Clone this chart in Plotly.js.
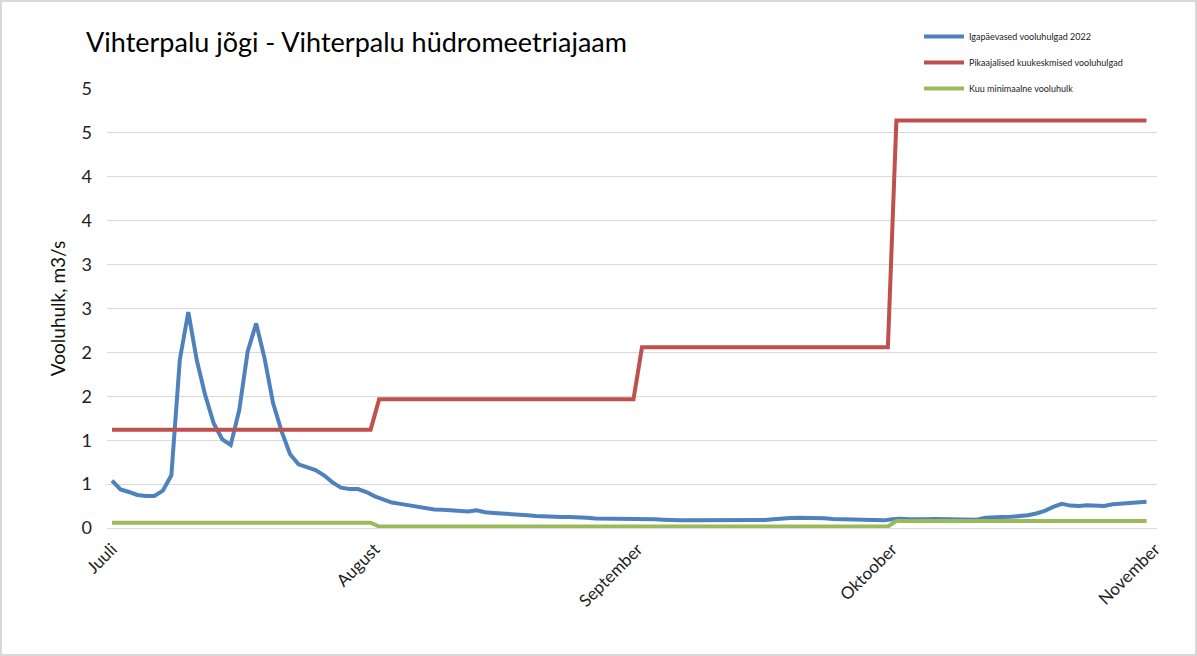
<!DOCTYPE html>
<html>
<head>
<meta charset="utf-8">
<script src="https://cdn.plot.ly/plotly-3.0.1.min.js"></script>
<style>
  body { margin: 0; background: #fff; }
  #chart { position: absolute; left: 0; top: 0; width: 1197px; height: 656px; }
  #frame { position: absolute; left: 0; top: 0; width: 1197px; height: 656px;
           box-sizing: border-box; border: 2px solid #d9d9d9; pointer-events: none; }
</style>
</head>
<body>
<div id="chart"></div>
<div id="frame"></div>
<script>
// daily flows 2022, m3/s
const julyFlow = [0.54, 0.44, 0.41, 0.376, 0.364, 0.364, 0.425, 0.60, 1.92, 2.46,
  1.91, 1.51, 1.19, 1.01, 0.945, 1.34, 2.01, 2.33, 1.93, 1.42,
  1.10, 0.84, 0.725, 0.687, 0.66, 0.60, 0.52, 0.46, 0.444, 0.444, 0.41];
const augustFlow = [0.36, 0.32, 0.29, 0.275, 0.26, 0.24, 0.22, 0.212, 0.207, 0.20,
  0.19, 0.188, 0.203, 0.18, 0.172, 0.168, 0.16, 0.15, 0.145, 0.138,
  0.132, 0.124, 0.124, 0.124, 0.124, 0.118, 0.109, 0.109, 0.109, 0.109, 0.105];
const septemberFlow = [0.105, 0.103, 0.10, 0.095, 0.087, 0.087, 0.087, 0.087, 0.087, 0.087,
  0.087, 0.087, 0.087, 0.087, 0.087, 0.09, 0.10, 0.11, 0.115, 0.117,
  0.117, 0.117, 0.11, 0.102, 0.10, 0.098, 0.095, 0.085, 0.085, 0.087];
const octoberFlow = [0.10, 0.106, 0.10, 0.095, 0.10, 0.102, 0.102, 0.102, 0.10, 0.095,
  0.095, 0.118, 0.125, 0.125, 0.127, 0.135, 0.145, 0.165, 0.195, 0.24,
  0.275, 0.255, 0.25, 0.26, 0.25, 0.25, 0.27, 0.28, 0.285, 0.29, 0.30];

// monthly long-term mean and monthly minimum (step corners)
const stepDates = ['2022-07-01', '2022-07-31 12:00', '2022-08-01 12:00', '2022-08-31 12:00',
  '2022-09-01 12:00', '2022-09-30 12:00', '2022-10-01 12:00', '2022-10-31'];
const meanFlow = [1.12, 1.12, 1.465, 1.465, 2.058, 2.058, 4.64, 4.64];
const minFlow = [0.06, 0.06, 0.017, 0.017, 0.017, 0.017, 0.08, 0.08];

const monthTicks = ['2022-07-01', '2022-08-01', '2022-09-01', '2022-10-01', '2022-11-01'];
const monthLabels = ['Juuli', 'August', 'September', 'Oktoober', 'November'];

const yTickVals = [0, 0.5, 1, 1.5, 2, 2.5, 3, 3.5, 4, 4.5, 5];
const yTickText = ['0', '1', '1', '2', '2', '3', '3', '4', '4', '5', '5'];

const dailyFlow = julyFlow.concat(augustFlow, septemberFlow, octoberFlow);
let days = [];
for (let i = 0; i < dailyFlow.length; i++) {
  let d = new Date(Date.UTC(2022, 6, 1 + i));
  days.push(d.toISOString().slice(0, 10));
}

const font = 'Lato, "Liberation Sans", sans-serif';

let data = [
  {
    x: days, y: dailyFlow, mode: 'lines', name: 'Igapäevased vooluhulgad 2022',
    legendgroup: 'a', line: { color: '#4F81BD', width: 4 }
  },
  {
    x: stepDates, y: meanFlow, mode: 'lines', name: 'Pikaajalised kuukeskmised vooluhulgad',
    legendgroup: 'b', line: { color: '#C0504D', width: 4 }
  },
  {
    x: stepDates, y: minFlow, mode: 'lines', name: 'Kuu minimaalne vooluhulk',
    legendgroup: 'c', line: { color: '#9BBB59', width: 4 }
  }
];

let layout = {
  width: 1197,
  height: 656,
  paper_bgcolor: '#fff',
  plot_bgcolor: '#fff',
  font: { family: font, color: '#222' },
  margin: { l: 107, r: 40, t: 89, b: 128, autoexpand: false },
  title: {
    text: 'Vihterpalu jõgi - Vihterpalu hüdromeetriajaam',
    font: { size: 27, color: '#000', family: font },
    xref: 'container', x: 86 / 1197, xanchor: 'left',
    yref: 'container', y: 1 - 43 / 656, yanchor: 'middle'
  },
  showlegend: true,
  legend: {
    xref: 'container', x: 919 / 1197, xanchor: 'left',
    yref: 'container', y: 1 - 22 / 656, yanchor: 'top',
    font: { size: 9, color: '#222', family: font },
    bgcolor: 'rgba(0,0,0,0)',
    itemwidth: 40,
    tracegroupgap: 7
  },
  xaxis: {
    type: 'date',
    range: ['2022-06-30 09:50', '2022-11-01 05:40'],
    tickvals: monthTicks,
    ticktext: monthLabels,
    tickangle: -45,
    tickfont: { size: 17, color: '#222' },
    showgrid: false,
    zeroline: false,
    showline: false,
    ticks: '',
    ticklabelstandoff: 7
  },
  yaxis: {
    range: [0, 5],
    tickvals: yTickVals,
    ticktext: yTickText,
    tickfont: { size: 18, color: '#222' },
    gridcolor: '#d9d9d9',
    gridwidth: 1,
    zeroline: true,
    zerolinecolor: '#d9d9d9',
    zerolinewidth: 1,
    showline: false,
    ticks: '',
    ticklabelstandoff: 14,
    title: { text: 'Vooluhulk, m3/s', font: { size: 19, color: '#111', family: font }, standoff: 10 }
  }
};

Plotly.newPlot('chart', data, layout, { displayModeBar: false, staticPlot: true });
</script>
</body>
</html>
